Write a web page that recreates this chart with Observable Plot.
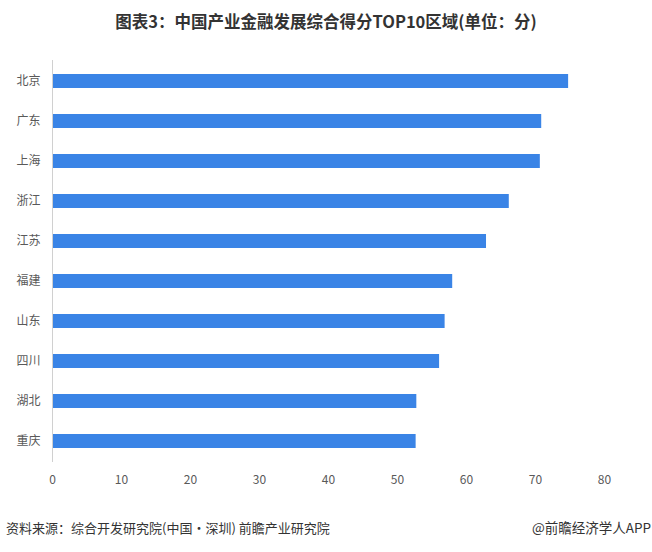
<!DOCTYPE html>
<html><head><meta charset="utf-8">
<script src="https://cdn.jsdelivr.net/npm/d3@7"></script>
<script src="https://cdn.jsdelivr.net/npm/@observablehq/plot@0.6"></script>
<style>
body{margin:0;background:#fff;font-family:"Noto Sans CJK SC","Noto Sans",sans-serif;width:652px;}
#title{height:44px;line-height:42px;text-align:center;font-size:16.5px;font-weight:bold;color:#333;}
#caption{position:relative;height:53px;color:#333;}
#caption .l{position:absolute;left:6px;top:19px;font-size:13px;}
#caption .r{position:absolute;right:1px;top:18px;font-size:13.5px;}
</style></head>
<body>
<div id="title">图表3：中国产业金融发展综合得分TOP10区域(单位：分)</div>
<div id="chart"></div>
<div id="caption"><span class="l">资料来源：综合开发研究院(中国·深圳) 前瞻产业研究院</span><span class="r">@前瞻经济学人APP</span></div>
<script>
const regions = ["北京","广东","上海","浙江","江苏","福建","山东","四川","湖北","重庆"];
const scores = [74.8, 70.9, 70.7, 66.2, 62.9, 58.0, 56.9, 56.1, 52.8, 52.7];
const xTicks = [0,10,20,30,40,50,60,70,80];
const data = regions.map((r,i)=>({region:r, score:scores[i]}));
const chart = Plot.plot({
  width: 652, height: 455,
  marginLeft: 52, marginRight: 48, marginTop: 16, marginBottom: 37,
  style: {fontFamily: '"Noto Sans CJK SC","Noto Sans",sans-serif', fontSize: "12px", color: "#595959"},
  x: {domain: [0,80], ticks: xTicks, tickSize: 0, tickPadding: 13, label: null},
  y: {domain: regions, padding: 0, tickSize: 0, tickPadding: 12, label: null},
  marks: [
    Plot.barX(data, {y: "region", x: "score", fill: "#3a84e6", insetTop: 13, insetBottom: 13}),
    Plot.ruleX([0], {stroke: "#d0d0d0"})
  ]
});
document.getElementById("chart").appendChild(chart);
</script>
</body></html>
